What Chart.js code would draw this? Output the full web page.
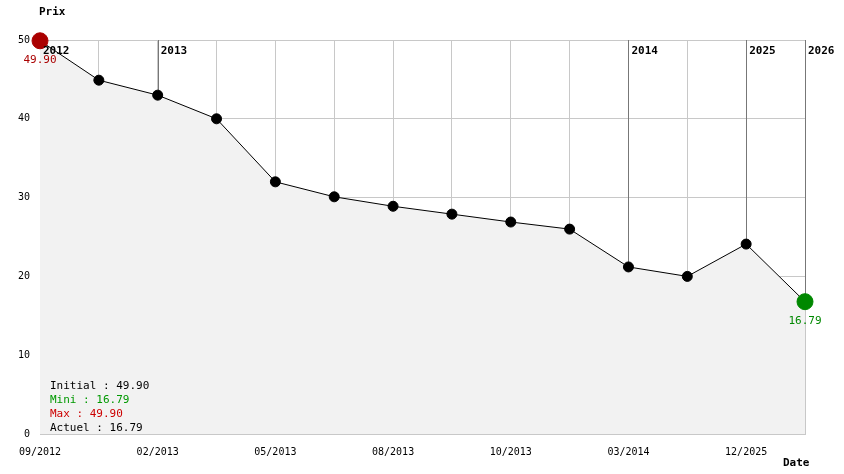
<!DOCTYPE html>
<html><head><meta charset="utf-8">
<script src="https://cdn.jsdelivr.net/npm/chart.js@4/dist/chart.umd.min.js"></script>
<style>body{margin:0;background:#fff}#wrap{width:844px;height:474px}</style>
</head><body><div id="wrap"><canvas id="chart"></canvas></div>
<script>
// données
const dates = ['09/2012','','02/2013','','05/2013','','08/2013','','10/2013','','03/2014','','12/2025',''];
const prix = [49.90, 44.9, 43.0, 40.0, 32.0, 30.1, 28.9, 27.9, 26.9, 26.0, 21.2, 20.0, 24.1, 16.79];
const annees = [[0,'2012'],[2,'2013'],[10,'2014'],[12,'2025'],[13,'2026']];
const infos = [['Initial : 49.90','#000'],['Mini : 16.79','#009900'],['Max : 49.90','#cc0000'],['Actuel : 16.79','#000']];
const FONT = '"DejaVu Sans Mono", monospace';

const couleurs = prix.map((v,i) => i===0 ? '#aa0000' : (i===prix.length-1 ? '#008800' : '#000'));
const rayons = prix.map((v,i) => (i===0 || i===prix.length-1) ? 8 : 5);

const decor = {
  id: 'decor',
  beforeDatasetsDraw(chart) {
    const c = chart.ctx, x = chart.scales.x, y = chart.scales.y, top = chart.chartArea.top;
    c.save();
    c.strokeStyle = '#777'; c.lineWidth = 1;
    annees.forEach(([i]) => {
      const px = Math.round(x.getPixelForValue(i)) + 0.5;
      c.beginPath(); c.moveTo(px, top); c.lineTo(px, y.getPixelForValue(prix[i])); c.stroke();
    });
    c.restore();
  },
  afterDatasetsDraw(chart) {
    const c = chart.ctx, x = chart.scales.x, y = chart.scales.y, a = chart.chartArea;
    c.save();
    c.font = 'bold 11px ' + FONT; c.fillStyle = '#000'; c.textBaseline = 'middle';
    annees.forEach(([i, t]) => c.fillText(t, x.getPixelForValue(i) + 3, a.top + 11));
    c.fillText('Prix', 39, 12);
    c.fillText('Date', 783, 463);
    c.font = '11px ' + FONT;
    const n = prix.length - 1;
    c.textAlign = 'center';
    c.fillStyle = '#aa0000'; c.fillText('49.90', x.getPixelForValue(0), y.getPixelForValue(prix[0]) + 19);
    c.fillStyle = '#008800'; c.fillText('16.79', x.getPixelForValue(n), y.getPixelForValue(prix[n]) + 19);
    c.textAlign = 'left';
    infos.forEach(([t, col], k) => { c.fillStyle = col; c.fillText(t, 50, 386 + k * 14); });
    c.restore();
  }
};

new Chart(document.getElementById('chart'), {
  type: 'line',
  data: {
    labels: dates,
    datasets: [{
      data: prix,
      borderColor: '#000', borderWidth: 1,
      fill: 'origin', backgroundColor: '#f2f2f2',
      pointBackgroundColor: couleurs, pointBorderColor: couleurs,
      pointRadius: rayons, tension: 0, clip: false
    }]
  },
  options: {
    responsive: true, maintainAspectRatio: false, animation: false,
    layout: { padding: { top: 40, right: 39, left: 0, bottom: 0 } },
    plugins: { legend: { display: false }, tooltip: { enabled: false } },
    scales: {
      x: {
        offset: false,
        grid: { color: '#c8c8c8', drawTicks: false },
        border: { color: '#c8c8c8' },
        ticks: { autoSkip: false, maxRotation: 0, font: { family: FONT, size: 10 }, color: '#000', padding: 12 },
        afterFit(s) { s.height = 40; }
      },
      y: {
        min: 0, max: 50,
        grid: { color: '#c8c8c8', drawTicks: false },
        border: { color: '#c8c8c8' },
        ticks: { stepSize: 10, font: { family: FONT, size: 10 }, color: '#000', padding: 10 },
        afterFit(s) { s.width = 40; }
      }
    }
  },
  plugins: [decor]
});
</script></body></html>
